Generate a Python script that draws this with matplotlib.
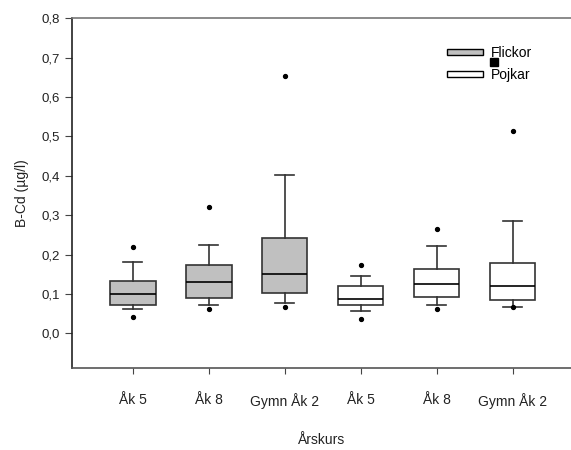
import matplotlib.pyplot as plt
from matplotlib.patches import Rectangle

plt.rcParams['font.family'] = ['Liberation Sans', 'DejaVu Sans']

labels = ['Åk 5', 'Åk 8', 'Gymn Åk 2', 'Åk 5', 'Åk 8', 'Gymn Åk 2']
groups = ['Flickor', 'Flickor', 'Flickor', 'Pojkar', 'Pojkar', 'Pojkar']

# box statistics (µg/l)
q1 = [0.072, 0.090, 0.103, 0.072, 0.093, 0.085]
med = [0.099, 0.130, 0.151, 0.088, 0.125, 0.120]
q3 = [0.133, 0.173, 0.242, 0.120, 0.162, 0.178]
whislo = [0.062, 0.072, 0.077, 0.056, 0.072, 0.067]
whishi = [0.181, 0.225, 0.403, 0.146, 0.222, 0.284]
fliers = [[0.219, 0.042], [0.320, 0.062], [0.653, 0.066],
          [0.173, 0.037], [0.264, 0.062], [0.513, 0.067]]

colors = {'Flickor': '#c0c0c0', 'Pojkar': 'white'}

stats = []
for i in range(len(labels)):
    stats.append(dict(q1=q1[i], med=med[i], q3=q3[i], whislo=whislo[i],
                      whishi=whishi[i], fliers=fliers[i]))

fig = plt.figure(figsize=(5.71, 4.5), dpi=100)
ax = fig.add_axes([0.1261, 0.1816, 0.874, 0.7777])

edge = '#333333'
pos = list(range(1, len(labels) + 1))
bp = ax.bxp(stats, positions=pos, widths=0.6, patch_artist=True,
            showfliers=True,
            boxprops=dict(edgecolor=edge, linewidth=1.2),
            whiskerprops=dict(color=edge, linewidth=1.2),
            capprops=dict(color=edge, linewidth=1.2),
            medianprops=dict(color='black', linewidth=1.2),
            flierprops=dict(marker='o', markersize=2.8, markerfacecolor='black',
                            markeredgecolor='black'),
            capwidths=0.25)
for patch, g in zip(bp['boxes'], groups):
    patch.set_facecolor(colors[g])

ax.set_xlim(0.2, 6.77)
ax.set_ylim(-0.089, 0.8)
ax.set_yticks([0, 0.1, 0.2, 0.3, 0.4, 0.5, 0.6, 0.7, 0.8])
ax.set_yticklabels(['0,0', '0,1', '0,2', '0,3', '0,4', '0,5', '0,6', '0,7', '0,8'],
                   fontsize=9.5, color='#222222')
ax.set_xticks(pos)
ax.set_xticklabels(labels, fontsize=10, color='#222222')
ax.tick_params(axis='x', length=4, pad=14, color='#444444')
ax.tick_params(axis='y', length=5, pad=4, color='#444444')

ax.spines['right'].set_visible(False)
ax.spines['top'].set_color('#777777')
ax.spines['left'].set_color('#222222')
ax.spines['bottom'].set_color('#555555')
for s in ax.spines.values():
    s.set_linewidth(1.2)

ax.set_ylabel('B-Cd (µg/l)', fontsize=10, color='#222222', labelpad=9)
ax.set_xlabel('Årskurs', fontsize=10, color='#222222', labelpad=17)

handles = [Rectangle((0, 0), 1, 1, facecolor=colors[g], edgecolor='black', linewidth=1)
           for g in ['Flickor', 'Pojkar']]
ax.legend(handles, ['Flickor', 'Pojkar'], loc='upper left',
          bbox_to_anchor=(0.74, 0.936), frameon=False, fontsize=10,
          handlelength=2.6, handleheight=0.25, handletextpad=0.6,
          labelspacing=0.55, borderaxespad=0)
fig.lines.append(plt.Line2D([494 / 571], [1 - 62 / 450], marker='s', markersize=5.5,
                            color='black', transform=fig.transFigure))

fig.savefig('out.png', dpi=100)
